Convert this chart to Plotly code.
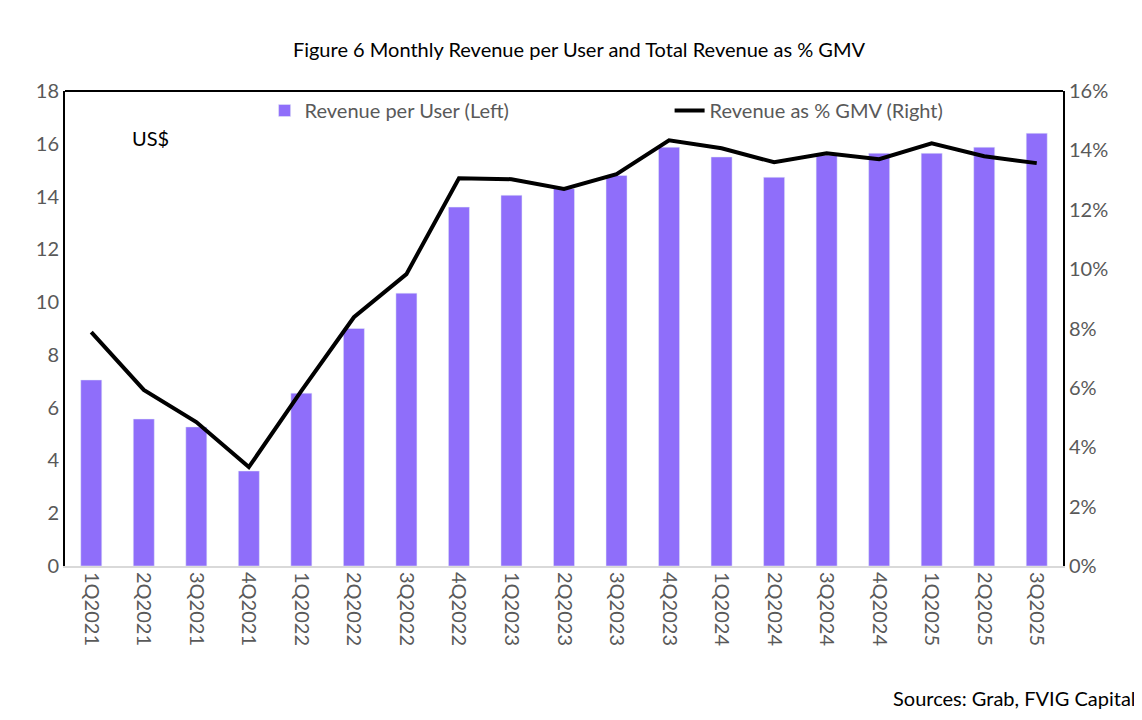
import plotly.graph_objects as go

quarters = ['1Q2021','2Q2021','3Q2021','4Q2021','1Q2022','2Q2022','3Q2022','4Q2022',
            '1Q2023','2Q2023','3Q2023','4Q2023','1Q2024','2Q2024','3Q2024','4Q2024',
            '1Q2025','2Q2025','3Q2025']
rev_per_user = [7.05, 5.57, 5.27, 3.6, 6.55, 9.0, 10.34, 13.6, 14.05, 14.3, 14.8, 15.87,
                15.5, 14.73, 15.57, 15.64, 15.64, 15.87, 16.4]
rev_pct_gmv = [7.88, 5.93, 4.85, 3.33, 5.9, 8.38, 9.83, 13.06, 13.03, 12.7, 13.2, 14.34,
               14.07, 13.6, 13.9, 13.7, 14.24, 13.8, 13.57]

fnt = 'Lato, Noto Sans, sans-serif'
fig = go.Figure()
fig.add_trace(go.Bar(x=quarters, y=rev_per_user, name='Revenue per User (Left)',
                     marker_color='#8f6efa', width=0.4))
fig.add_trace(go.Scatter(x=quarters, y=[v / 100 for v in rev_pct_gmv], name='Revenue as % GMV (Right)',
                         yaxis='y2', mode='lines', line=dict(color='black', width=4)))

fig.update_layout(
    width=1142, height=720, plot_bgcolor='white', paper_bgcolor='white',
    margin=dict(l=57, r=87, t=83, b=162, autoexpand=False),
    font=dict(family=fnt, size=20, color='#595959'),
    title=dict(text='Figure 6 Monthly Revenue per User and Total Revenue as % GMV', x=0.5, y=0.942,
               xanchor='center', yanchor='middle', font=dict(size=20, color='black')),
    xaxis=dict(tickangle=90, showline=True, linecolor='#d9d9d9', linewidth=2, mirror=False,
               ticks='', range=[-0.5, 18.5], automargin=False),
    yaxis=dict(range=[0, 18], dtick=2, showgrid=False, showline=True, linecolor='black',
               linewidth=2, ticks='', zeroline=False, automargin=False),
    yaxis2=dict(range=[0, 0.16], dtick=0.02, tickformat='.0%', overlaying='y', side='right',
                showgrid=False, showline=True, linecolor='black', linewidth=2, ticks='',
                zeroline=False, automargin=False),
    legend=dict(orientation='h', x=0.2, y=1.0, xanchor='left', yanchor='top', entrywidth=360,
                bgcolor='rgba(0,0,0,0)', font=dict(size=20, color='#595959'), traceorder='normal'),
    bargap=0.5,
    shapes=[dict(type='line', xref='paper', yref='paper', x0=0, x1=1, y0=1, y1=1,
                 line=dict(color='black', width=2))],
    annotations=[
        dict(text='US$', xref='paper', yref='paper', x=0.065, y=0.93, showarrow=False,
             font=dict(size=20, color='black')),
        dict(text='Sources: Grab, FVIG Capital', xref='paper', yref='paper', x=1.075, y=-0.278,
             xanchor='right', yanchor='middle', showarrow=False, font=dict(size=20, color='black')),
    ],
)
fig.write_html('out.html')
